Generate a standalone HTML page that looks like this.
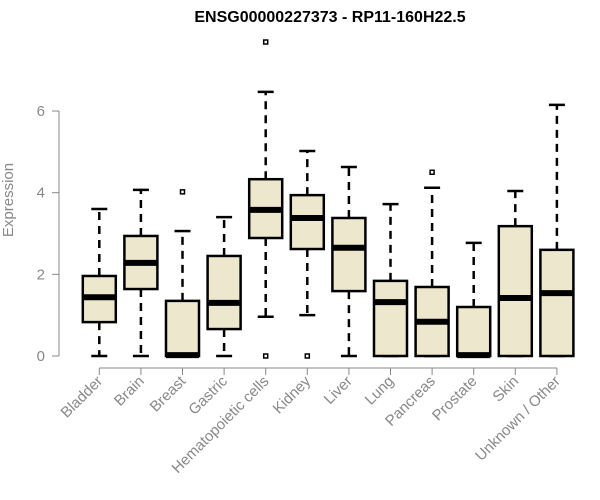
<!DOCTYPE html>
<html><head><meta charset="utf-8"><style>body{margin:0;background:#fff}svg{display:block;font-family:"Liberation Sans",Arial,sans-serif}</style></head>
<body>
<svg id="chart" width="600" height="500" viewBox="0 0 600 500">
<text x="330" y="22" text-anchor="middle" font-weight="bold" font-size="16">ENSG00000227373 - RP11-160H22.5</text>
<text transform="translate(13,200) rotate(-90)" text-anchor="middle" font-size="15" fill="#888">Expression</text>
<g id="axes"></g><g id="boxes"></g>
</svg>
<script>
const categories=["Bladder","Brain","Breast","Gastric","Hematopoietic cells","Kidney","Liver","Lung","Pancreas","Prostate","Skin","Unknown / Other"];
const whiskerLow=[0,0,0,0,0.96,1.0,0,0,0,0,0,0];
const q1=[0.83,1.64,0,0.66,2.89,2.62,1.59,0,0,0,0,0];
const medians=[1.44,2.28,0.02,1.3,3.58,3.38,2.65,1.32,0.84,0.02,1.42,1.54];
const q3=[1.96,2.94,1.35,2.45,4.33,3.94,3.38,1.84,1.69,1.2,3.18,2.6];
const whiskerHigh=[3.6,4.07,3.06,3.4,6.47,5.02,4.63,3.72,4.12,2.77,4.04,6.15];
const outliers=[[],[],[4.02],[],[7.69,0],[0],[],[],[4.5],[],[],[]];
const yTicks=[0,2,4,6];
const NS="http://www.w3.org/2000/svg";
const y=v=>356-v*40.83;
const x=i=>99.3+i*41.6;
function mk(tag,attrs,parent){const e=document.createElementNS(NS,tag);for(const k in attrs)e.setAttribute(k,attrs[k]);parent.appendChild(e);return e;}
const ax=document.getElementById('axes'),bx=document.getElementById('boxes');
let l=mk('line',{x1:59,x2:59,y1:y(0),y2:y(6),stroke:'#888'},ax);


yTicks.forEach(t=>{
 const tk=mk('line',{x1:52,x2:59,y1:y(t),y2:y(t),stroke:'#888'},ax);
 
 
 const tx=mk('text',{x:45,y:y(t)+5,'text-anchor':'end','font-size':15,fill:'#888'},ax);tx.textContent=t;
 
 
});
l=mk('line',{x1:x(0),x2:x(categories.length-1),y1:368,y2:368,stroke:'#888'},ax);


categories.forEach((c,i)=>{
 const cx=x(i);
 const tk=mk('line',{x1:cx,x2:cx,y1:368,y2:375,stroke:'#888'},ax);
 
 
 const tx=mk('text',{x:cx+4,y:382,'text-anchor':'end','font-size':15,fill:'#888',transform:`rotate(-45 ${cx+4} 382)`},ax);tx.textContent=c;
 
 
 const g=mk('g',{},bx);
 
 
 mk('line',{x1:cx,x2:cx,y1:y(q3[i]),y2:y(whiskerHigh[i]),stroke:'#000','stroke-width':2.5,'stroke-dasharray':'8,6'},g);
 mk('line',{x1:cx,x2:cx,y1:y(q1[i]),y2:y(whiskerLow[i]),stroke:'#000','stroke-width':2.5,'stroke-dasharray':'8,6'},g);
 mk('line',{x1:cx-8,x2:cx+8,y1:y(whiskerHigh[i]),y2:y(whiskerHigh[i]),stroke:'#000','stroke-width':2.5},g);
 mk('line',{x1:cx-8,x2:cx+8,y1:y(whiskerLow[i]),y2:y(whiskerLow[i]),stroke:'#000','stroke-width':2.5},g);
 mk('rect',{x:cx-16.5,y:y(q3[i]),width:33,height:Math.max(0,y(q1[i])-y(q3[i])),fill:'#ede8cd',stroke:'#000','stroke-width':2.5},g);
 mk('line',{x1:cx-16.5,x2:cx+16.5,y1:y(medians[i]),y2:y(medians[i]),stroke:'#000','stroke-width':6},g);
 outliers[i].forEach(o=>{mk('rect',{x:cx-2,y:y(o)-2,width:4,height:4,fill:'none',stroke:'#000','stroke-width':1.5},g);});
});
</script>
</body></html>
